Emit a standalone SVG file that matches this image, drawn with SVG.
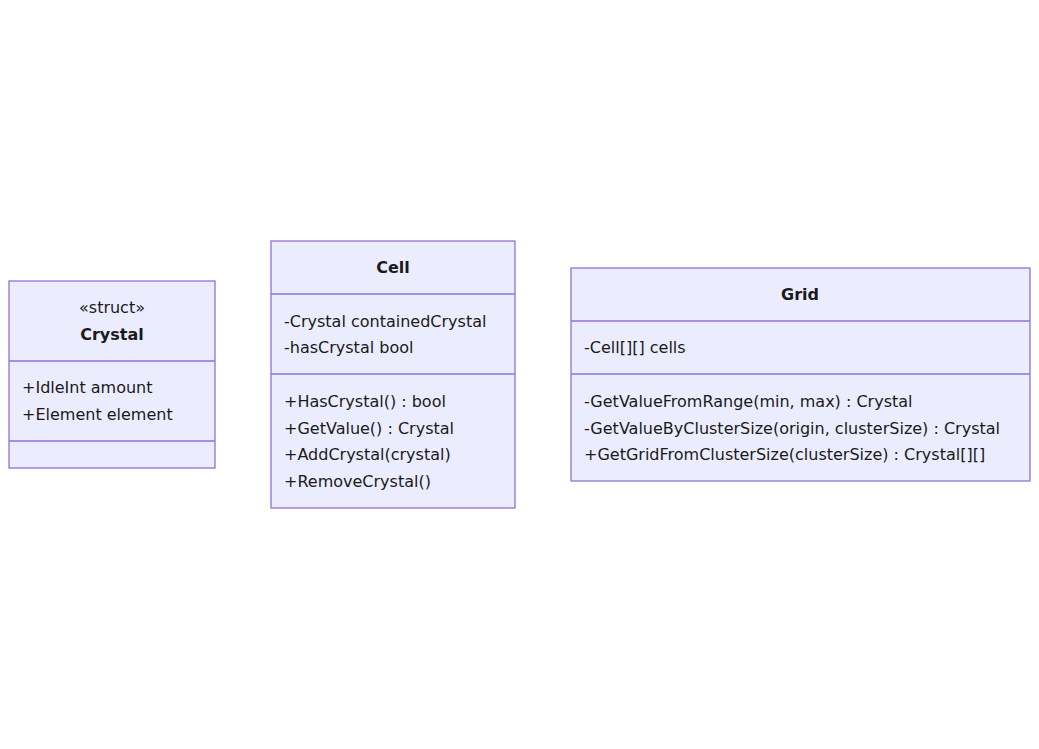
<svg xmlns="http://www.w3.org/2000/svg" width="1039" height="749" viewBox="0 0 1039 749">
<style>
.box{fill:#ECECFF;stroke:#9370DB;stroke-width:1.3}
.div{stroke:#9370DB;stroke-width:1.3}
text{font-family:"DejaVu Sans","Liberation Sans",sans-serif;font-size:16px;fill:#1a1a1a}
.t{font-weight:bold;text-anchor:middle}
.s{text-anchor:middle}
</style>
<rect width="1039" height="749" fill="#ffffff"/>
<g id="connectors"></g>
<g id="Crystal">
<rect class="box" x="9" y="281" width="206" height="187"/>
<line class="div" x1="9" y1="361" x2="215" y2="361"/>
<line class="div" x1="9" y1="441" x2="215" y2="441"/>
<text class="s" x="112" y="313">«struct»</text>
<text class="t" x="112" y="340">Crystal</text>
<text x="22" y="393">+IdleInt amount</text>
<text x="22" y="420">+Element element</text>
</g>
<g id="Cell">
<rect class="box" x="271" y="241" width="244" height="267"/>
<line class="div" x1="271" y1="294" x2="515" y2="294"/>
<line class="div" x1="271" y1="374" x2="515" y2="374"/>
<text class="t" x="393" y="273">Cell</text>
<text x="284" y="327">-Crystal containedCrystal</text>
<text x="284" y="353">-hasCrystal bool</text>
<text x="284" y="407">+HasCrystal() : bool</text>
<text x="284" y="434">+GetValue() : Crystal</text>
<text x="284" y="460">+AddCrystal(crystal)</text>
<text x="284" y="487">+RemoveCrystal()</text>
</g>
<g id="Grid">
<rect class="box" x="571" y="268" width="459" height="213"/>
<line class="div" x1="571" y1="321" x2="1030" y2="321"/>
<line class="div" x1="571" y1="374" x2="1030" y2="374"/>
<text class="t" x="800" y="300">Grid</text>
<text x="584" y="353">-Cell[][] cells</text>
<text x="584" y="407">-GetValueFromRange(min, max) : Crystal</text>
<text x="584" y="434">-GetValueByClusterSize(origin, clusterSize) : Crystal</text>
<text x="584" y="460">+GetGridFromClusterSize(clusterSize) : Crystal[][]</text>
</g>
</svg>
